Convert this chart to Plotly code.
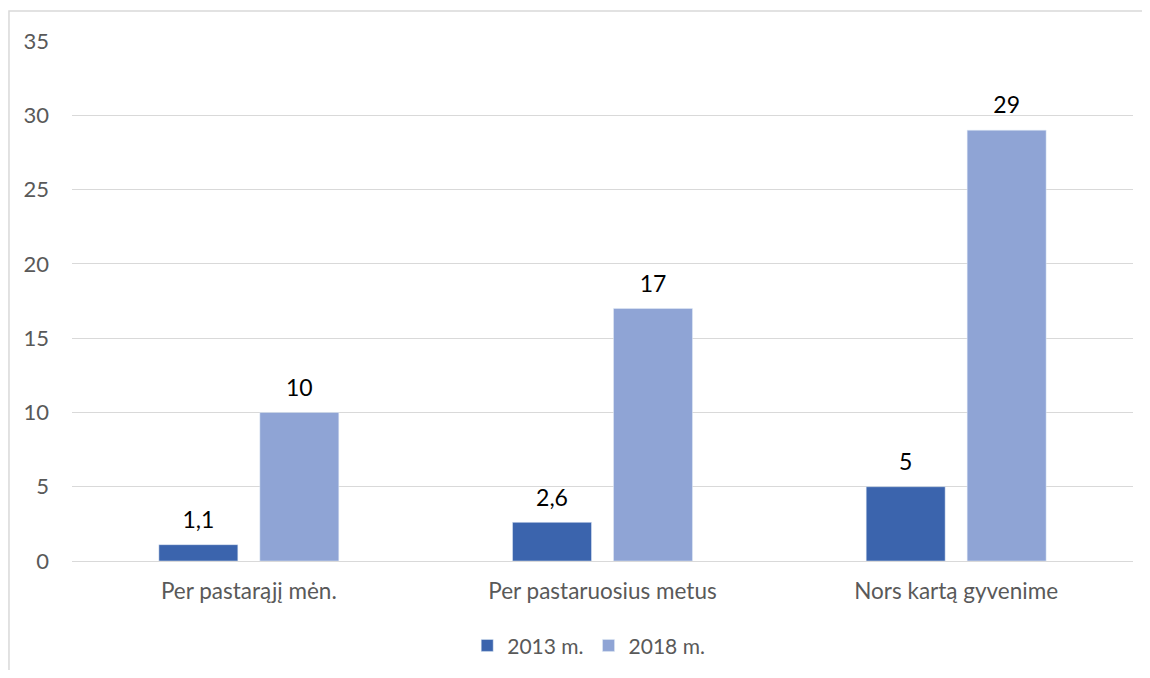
import plotly.graph_objects as go

categories = ["Per pastarąjį mėn.", "Per pastaruosius metus", "Nors kartą gyvenime"]
series_names = ["2013 m.", "2018 m."]
values_2013 = [1.1, 2.6, 5]
values_2018 = [10, 17, 29]
y_ticks = [0, 5, 10, 15, 20, 25, 30, 35]

colors = ["#3b64ad", "#8fa4d5"]
FONT = "Lato, 'Open Sans', sans-serif"

fig = go.Figure()
for name, vals, col in zip(series_names, [values_2013, values_2018], colors):
    fig.add_trace(go.Bar(
        x=categories, y=vals, name=name, marker_color=col,
        offsetgroup=name, alignmentgroup="a",
    ))
for name, vals in zip(series_names, [values_2013, values_2018]):
    fig.add_trace(go.Scatter(
        x=categories, y=vals, mode="markers+text",
        marker=dict(size=16, opacity=0), texttemplate="%{y}",
        textposition="top center", textfont=dict(size=23, color="#000000", family=FONT),
        offsetgroup=name, alignmentgroup="a", showlegend=False, hoverinfo="skip",
        cliponaxis=False,
    ))

fig.update_layout(
    width=1142, height=662,
    margin=dict(l=64, r=17, t=33, b=109, autoexpand=False),
    paper_bgcolor="white", plot_bgcolor="white",
    barmode="group", bargap=0.429, bargroupgap=0.218,
    scattermode="group", scattergap=0.429,
    separators=",.",
    font=dict(family=FONT, size=22, color="#595959"),
    showlegend=True,
    legend=dict(orientation="h", x=0.487, xanchor="center", y=-0.163, yanchor="middle",
                font=dict(size=21, color="#595959"), traceorder="normal",
                itemwidth=30),
    yaxis=dict(range=[0, 35], tickvals=y_ticks, showgrid=True, gridcolor="#d9d9d9",
               gridwidth=1.3, zeroline=False, showline=False, ticks="",
               ticklabelstandoff=22, tickfont=dict(size=22, color="#595959"),
               automargin=False),
    xaxis=dict(showline=True, linecolor="#d9d9d9", linewidth=1.3, ticks="",
               ticklabelstandoff=10, tickfont=dict(size=22.5, color="#595959"),
               automargin=False),
    shapes=[dict(type="rect", xref="paper", yref="paper",
                 x0=-0.0594, x1=1.2, y0=-0.4, y1=1.0577,
                 line=dict(color="#d9d9d9", width=1.5), fillcolor="rgba(0,0,0,0)",
                 layer="below")],
)

fig.write_html("out.html")
